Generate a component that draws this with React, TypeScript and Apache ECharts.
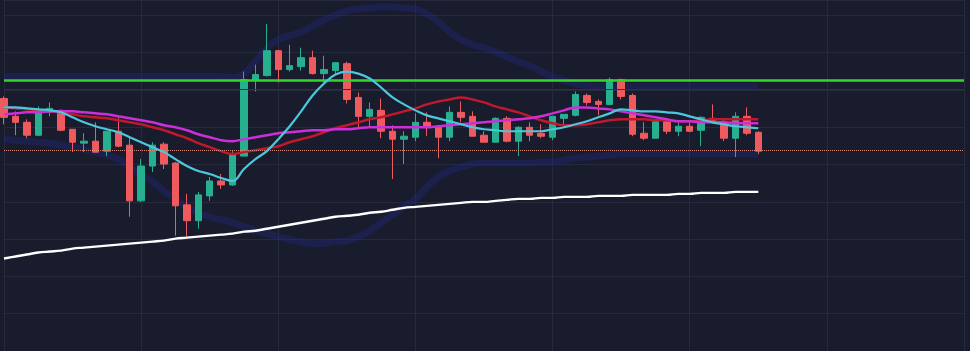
import React, { useEffect, useRef } from "react";
import * as echarts from "echarts";

// 85 slots on the time axis, only the first 67 carry candles
const categories = Array.from({ length: 85 }, (_, i) => `P${i + 1}`);

const openPrices = [404,386,380,367,390,392,373,359,361,351,371,357,301,336,358,339,297,281,306,321,317,346,422,427,452,433,436,445,429,432,439,405,386,392,371,363,365,380,375,365,390,386,367,360,384,361,375,369,365,384,387,407,401,398,423,407,369,364,381,371,376,372,384,380,364,386,370];
const closePrices = [385,380,367,390,394,372,360,361,350,371,356,301,336,357,338,296,281,307,321,317,347,423,428,452,433,437,445,429,433,440,403,386,393,371,363,366,380,375,365,390,385,366,360,384,361,375,367,366,386,388,408,400,398,423,406,368,364,381,371,376,371,385,380,364,386,369,351];
const lowPrices = [378,367,364,366,386,371,350,350,350,346,355,285,300,330,333,266,265,273,301,313,316,346,411,426,420,431,432,428,420,428,399,375,376,364,323,338,361,366,344,361,380,366,360,360,360,346,361,364,362,375,386,397,387,397,403,366,362,364,368,366,370,356,379,361,345,367,348];
const highPrices = [406,391,383,396,400,393,373,369,380,371,385,365,343,360,360,340,308,310,325,328,351,431,438,479,453,458,455,452,447,440,441,410,400,404,377,371,389,390,375,396,401,391,371,385,386,376,380,378,386,388,411,409,403,425,424,409,380,381,382,380,380,386,398,384,390,395,371];

const fastMA = [395,395,394,393,392,390,385,380,376,373,370,365,360,355,350,343,336,331,328,324,321,333,343,351,363,376,391,407,419,428,431,429,424,415,405,398,392,387,384,381,378,375,373,372,371,371,371,371,373,375,378,381,385,389,393,392,391,391,390,389,386,383,380,378,376,375,374];
const midMA = [395,394,393,392,391,390,388,386,385,384,382,380,378,375,372,368,364,359,355,351,348,350,352,354,356,360,363,366,370,374,377,380,383,385,388,391,394,398,401,403,405,403,400,396,393,390,386,382,379,377,377,378,380,382,383,383,383,382,382,381,381,382,383,383,383,383,383];
const slowMA = [388,389,390,390,391,391,391,390,389,388,386,384,382,380,377,375,372,368,365,362,361,363,365,367,369,370,371,372,372,373,373,374,375,375,375,375,375,375,376,377,378,379,380,381,382,383,384,386,389,392,395,395,394,393,391,389,387,385,383,381,381,380,380,380,379,379,379];
const longMA = [243,245,247,249,250,251,253,254,255,256,257,258,259,260,261,263,264,265,266,267,268,270,271,273,275,277,279,281,283,285,286,287,289,290,292,294,295,296,297,298,299,300,300,301,302,303,303,304,304,305,305,305,306,306,306,307,307,307,307,308,308,309,309,309,310,310,310];
const bandUpper = [426,426,426,426,426,426,426,426,426,426,426,426,426,426,426,426,426,426,426,426,425,429,441,455,463,467,471,477,483,488,492,494,495,496,496,495,494,489,481,471,463,458,455,451,446,441,437,431,426,422,419,417,416,416,416,416,416,416,416,416,416,416,416,416,416,416,416];
const bandLower = [363,362,361,360,359,357,355,353,350,347,343,335,327,320,311,303,295,289,285,282,279,275,271,268,265,262,260,258,258,260,261,265,271,279,287,295,303,315,325,331,335,338,339,339,339,339,339,340,340,342,344,345,346,347,348,348,348,348,348,348,348,348,348,348,348,348,348];

const resistanceLevel = 422.5;
const minorLevel = 413;
const lastPriceLevel = 352;

export default function App() {
  const ref = useRef<HTMLDivElement>(null);

  useEffect(() => {
    document.body.style.margin = "0";
    document.body.style.overflow = "hidden";
    document.body.style.background = "#191c2c";
    const chart = echarts.init(ref.current as HTMLDivElement, null, { renderer: "svg" });
    const candleData = openPrices.map((o, i) => [o, closePrices[i], lowPrices[i], highPrices[i]]);
    const lineSeries = (data: number[], color: string, width: number, z: number) => ({
      type: "line",
      data,
      smooth: 0.4,
      symbol: "none",
      silent: true,
      z,
      lineStyle: { color, width },
    });
    chart.setOption({
      animation: false,
      backgroundColor: "#191c2c",
      grid: { left: 4, right: 6, top: 0, bottom: -2 },
      xAxis: {
        type: "category",
        data: categories,
        boundaryGap: false,
        axisLine: { show: false },
        axisTick: { show: false },
        axisLabel: { show: false },
        splitLine: { show: true, interval: 11, lineStyle: { color: "#262a3c", width: 1 } },
      },
      yAxis: {
        type: "value",
        min: 150,
        max: 503,
        interval: 37.5,
        axisLine: { show: false },
        axisTick: { show: false },
        axisLabel: { show: false },
        splitLine: { show: true, lineStyle: { color: "#262a3c", width: 1 } },
      },
      series: [
        { ...lineSeries(bandUpper, "rgba(34,40,150,0.32)", 7, 1), smooth: 0.5 },
        { ...lineSeries(bandLower, "rgba(34,40,150,0.32)", 7, 1), smooth: 0.5 },
        {
          type: "candlestick",
          data: candleData,
          barWidth: 7,
          z: 3,
          silent: true,
          itemStyle: {
            color: "#26b08f",
            color0: "#ef5a5e",
            borderColor: "#26b08f",
            borderColor0: "#ef5a5e",
            borderWidth: 1,
          },
          markLine: {
            symbol: "none",
            silent: true,
            label: { show: false },
            data: [
              { yAxis: minorLevel, lineStyle: { color: "#4a2334", width: 1, type: "solid" } },
              { yAxis: resistanceLevel, lineStyle: { color: "#33d42b", width: 2.5, type: "solid" } },
              { yAxis: lastPriceLevel, lineStyle: { color: "#d98a7a", width: 1, type: "dotted" } },
            ],
          },
        },
        lineSeries(midMA, "#c0182c", 2.5, 4),
        lineSeries(slowMA, "#cc2fd8", 2.5, 4),
        lineSeries(fastMA, "#4cc8dd", 2.2, 5),
        lineSeries(longMA, "#ffffff", 2.4, 5),
      ],
    });
    return () => chart.dispose();
  }, []);

  return <div ref={ref} style={{ width: 970, height: 351 }} />;
}
